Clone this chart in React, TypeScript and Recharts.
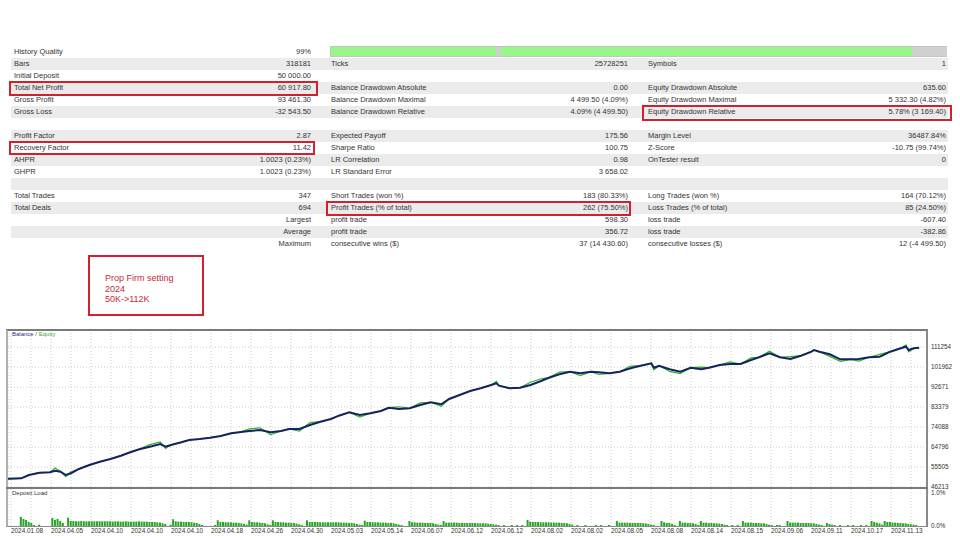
import React from 'react';
import { LineChart, Line, BarChart, Bar, XAxis, YAxis, CartesianGrid } from 'recharts';

// balance / equity curve, by trade number
const trades = [
  0, 5, 8, 12, 16, 18, 20, 22, 24, 27, 31, 35, 39, 43, 46, 50, 54, 58, 60, 62,
  66, 69, 73, 77, 81, 85, 88, 92, 96, 100, 104, 107, 111, 115, 119, 123, 126, 130, 134, 138,
  142, 145, 149, 153, 157, 161, 165, 168, 172, 176, 180, 184, 186, 187, 191, 195, 199, 203, 206, 210,
  214, 218, 222, 225, 229, 233, 237, 241, 245, 246, 248, 252, 256, 260, 264, 267, 271, 275, 279, 283,
  286, 290, 294, 298, 302, 306, 307, 309, 313, 317, 321, 324, 328, 332, 336, 340, 342, 343, 345, 347,
];
const balance = [
  50000, 50250, 51790, 52860, 53040, 53790, 53320, 51790, 52580, 54580, 56430, 57970, 59220, 60750, 62150, 63730, 64940, 66190, 64940, 65730,
  66980, 68050, 68510, 69120, 69910, 71160, 71630, 72230, 72690, 71630, 72230, 73160, 73160, 75020, 76550, 77800, 79340, 80920, 79660, 80450,
  81520, 83050, 82450, 82780, 84310, 85560, 84630, 87100, 88950, 90810, 92070, 93600, 94390, 93280, 92070, 92350, 93600, 95460, 96990, 98570,
  99780, 99040, 99780, 99500, 99040, 99780, 101360, 102570, 103680, 101640, 102570, 100890, 99780, 101640, 100890, 101640, 102890, 103360, 103360, 105220,
  106470, 108330, 106470, 105680, 107210, 109070, 109860, 109070, 107860, 105540, 105540, 105680, 106470, 106750, 109070, 110650, 111390, 109860, 110650, 110918,
];
const equity = [
  50000, 50250, 51790, 52860, 53040, 55000, 53320, 51000, 53300, 54580, 56430, 57970, 59220, 60750, 62150, 63730, 65900, 67200, 64100, 65730,
  66980, 68050, 68510, 69120, 69910, 71160, 71630, 73200, 73700, 70600, 72230, 73160, 72200, 76100, 76550, 77800, 79340, 80920, 78700, 80450,
  81520, 83050, 83500, 82780, 85300, 85560, 83700, 87100, 88950, 90810, 92070, 93600, 95300, 93280, 92070, 92350, 94900, 96500, 96990, 99600,
  99780, 98000, 99780, 98500, 99040, 99780, 102400, 102570, 103680, 100700, 102570, 99900, 98900, 101640, 101900, 101640, 102890, 104300, 103360, 106200,
  106470, 109300, 106470, 106800, 107210, 109070, 109860, 109070, 106900, 104600, 105540, 104700, 106470, 107800, 109070, 110650, 112200, 109000, 110650, 110918,
];

// deposit load per trade (index = trade number), in hundredths of a percent
const depositLoad = [
  0, 0, 0, 0, 0,
  27, 21, 18, 12, 9, 3, 0, 4,
  0, 0, 0, 0,
  24, 18, 21, 15, 9, 0,
  25, 15, 15, 14, 14, 15, 14, 14, 14, 14, 14, 14, 14, 14, 14, 14, 14, 13, 14, 14, 13, 13, 14, 13, 13, 13, 13, 14, 13, 13, 13, 12, 12, 12, 11, 10, 8, 6, 0,
  4,
  20, 14, 13, 13, 12, 12, 12, 11, 10, 9, 6, 3,
  0, 0, 0, 0, 3,
  17, 12, 12, 11, 11, 11, 10, 10, 9, 8, 6, 4,
  17, 12, 11, 11, 10, 9, 8, 5, 3,
  17, 12, 12, 11, 11, 10, 10, 9, 9, 7, 5, 3, 0,
  17, 12, 12, 12, 12, 11, 11, 11, 11, 11, 11, 11, 11, 10, 10, 10, 9, 9, 8, 6, 4, 3,
  16, 12, 12, 11, 11, 11, 10, 10, 10, 9, 9, 8, 6, 4, 3, 0, 0,
  15, 11, 11, 10, 10, 10, 9, 9, 9, 8, 6, 4, 3,
  15, 10, 10, 10, 10, 10, 9, 9, 9, 9, 9, 9, 9, 8, 8, 8, 8, 7, 6, 5, 4, 3, 0, 3, 0, 0, 3, 0, 3, 0, 3, 0,
  18, 13, 12, 12, 12, 11, 11, 11, 11, 10, 10, 10, 10, 9, 9, 8, 6, 4,
  0, 3, 0, 0, 3, 0, 0, 0, 3, 0, 3, 0, 0, 3, 0, 0,
  15, 10, 10, 10, 10, 9, 9, 9, 9, 9, 8, 8, 6, 4, 3, 0, 0,
  15, 11, 9, 9, 6, 3, 0,
  15, 10, 10, 9, 9, 8, 6, 3,
  15, 10, 10, 9, 9, 8, 8, 7, 6, 4, 3, 0,
  3, 0, 3, 0,
  15, 10, 10, 10, 9, 9, 9, 8, 8, 6, 4, 3,
  0, 3, 3, 0, 0,
  15, 10, 10, 10, 10, 9, 9, 9, 9, 8, 8, 6, 4, 3, 0,
  9, 6, 4, 3,
  0, 3, 0, 0, 3, 0, 3, 0, 0, 3, 0, 3, 0,
  15, 12, 10, 8, 4,
  15, 12, 12, 10, 10, 9, 9, 8, 8, 6, 5, 4, 3, 0,
];

const balanceTicks = [46213, 55505, 64796, 74088, 83379, 92671, 101962, 111254];
const loadTicks = [0, 1];
const dateLabels = [
  '2024.01.08', '2024.04.05', '2024.04.10', '2024.04.10', '2024.04.10', '2024.04.18', '2024.04.26', '2024.04.30',
  '2024.05.03', '2024.05.14', '2024.06.07', '2024.06.12', '2024.06.12', '2024.08.02', '2024.08.02', '2024.08.05',
  '2024.08.08', '2024.08.14', '2024.08.15', '2024.09.06', '2024.09.11', '2024.10.17', '2024.11.13',
];

// report table, one [label, value] pair per row for each column group
const leftCol = [
  ['History Quality', '99%'],
  ['Bars', '318181'],
  ['Initial Deposit', '50 000.00'],
  ['Total Net Profit', '60 917.80'],
  ['Gross Profit', '93 461.30'],
  ['Gross Loss', '-32 543.50'],
  ['', ''],
  ['Profit Factor', '2.87'],
  ['Recovery Factor', '11.42'],
  ['AHPR', '1.0023 (0.23%)'],
  ['GHPR', '1.0023 (0.23%)'],
  ['', ''],
  ['Total Trades', '347'],
  ['Total Deals', '694'],
  ['', 'Largest'],
  ['', 'Average'],
  ['', 'Maximum'],
];
const midCol = [
  ['', ''],
  ['Ticks', '25728251'],
  ['', ''],
  ['Balance Drawdown Absolute', '0.00'],
  ['Balance Drawdown Maximal', '4 499.50 (4.09%)'],
  ['Balance Drawdown Relative', '4.09% (4 499.50)'],
  ['', ''],
  ['Expected Payoff', '175.56'],
  ['Sharpe Ratio', '100.75'],
  ['LR Correlation', '0.98'],
  ['LR Standard Error', '3 658.02'],
  ['', ''],
  ['Short Trades (won %)', '183 (80.33%)'],
  ['Profit Trades (% of total)', '262 (75.50%)'],
  ['profit trade', '598.30'],
  ['profit trade', '356.72'],
  ['consecutive wins ($)', '37 (14 430.60)'],
];
const rightCol = [
  ['', ''],
  ['Symbols', '1'],
  ['', ''],
  ['Equity Drawdown Absolute', '635.60'],
  ['Equity Drawdown Maximal', '5 332.30 (4.82%)'],
  ['Equity Drawdown Relative', '5.78% (3 169.40)'],
  ['', ''],
  ['Margin Level', '36487.84%'],
  ['Z-Score', '-10.75 (99.74%)'],
  ['OnTester result', '0'],
  ['', ''],
  ['', ''],
  ['Long Trades (won %)', '164 (70.12%)'],
  ['Loss Trades (% of total)', '85 (24.50%)'],
  ['loss trade', '-607.40'],
  ['loss trade', '-382.86'],
  ['consecutive losses ($)', '12 (-4 499.50)'],
];

const FONT = '"Liberation Sans", Arial, sans-serif';
const TEXT = '#333';
const RED = '#d2202e';
const ROW_H = 12;

// x axis runs over trade numbers; plot is 919px wide, grid every 20px
const TRADE_MAX = 350;
const PLOT_W = 919;
const gridTicks = Array.from({ length: 46 }, (_, i) => ((3 + 20 * i) * TRADE_MAX) / PLOT_W);

const curveData = trades.map((t, i) => ({ trade: t, balance: balance[i], equity: equity[i] }));
const loadData = depositLoad.map((v, i) => ({ trade: i, load: v / 100 }));

const cell = (left: number, width: number, align: 'left' | 'right', text: string) => (
  <div style={{ position: 'absolute', left, width, top: 0, height: ROW_H, lineHeight: ROW_H + 'px', textAlign: align, whiteSpace: 'nowrap' }}>
    {text}
  </div>
);

function ReportTable() {
  return (
    <div style={{ position: 'absolute', left: 10, top: 46, width: 937, fontFamily: FONT, fontSize: 7.5, color: TEXT, borderLeft: '1px dotted #bbb' }}>
      {leftCol.map((row, i) => (
        <div key={i} style={{ position: 'absolute', left: 0, top: i * ROW_H, width: 937, height: ROW_H, background: i % 2 ? '#ebebeb' : '#fff' }}>
          {cell(3, 200, 'left', row[0])}
          {cell(0, 300, 'right', row[1])}
          {cell(320, 200, 'left', midCol[i][0])}
          {cell(320, 297, 'right', midCol[i][1])}
          {cell(637, 200, 'left', rightCol[i][0])}
          {cell(637, 298, 'right', rightCol[i][1])}
        </div>
      ))}
      {/* history quality bar */}
      <div style={{ position: 'absolute', left: 319, top: 0, width: 617, height: 11, background: '#98f68a', border: '1px solid #c4c4c4', boxSizing: 'border-box' }}>
        <div style={{ position: 'absolute', left: 165, top: 0, width: 5, height: 9, background: '#cfcfcf' }} />
        <div style={{ position: 'absolute', left: 581, top: 0, width: 35, height: 9, background: '#d0d0d0' }} />
      </div>
    </div>
  );
}

const boxes = [
  { left: 9, top: 81, width: 309, height: 15 },
  { left: 9, top: 141, width: 306, height: 14 },
  { left: 326, top: 201, width: 305, height: 15 },
  { left: 642, top: 105, width: 310, height: 16 },
];

function DateTick(props: any) {
  const { x, y, index } = props;
  if (index % 2 !== 0) return null;
  return (
    <text x={x} y={y} dy={7} fontSize={6.4} fontFamily={FONT} fill="#333" textAnchor="start">
      {dateLabels[index / 2]}
    </text>
  );
}

function NoTick() {
  return null;
}

const tickStyle = { fontSize: 6.3, fontFamily: FONT, fill: '#333' };

export default function App() {
  return (
    <div style={{ position: 'absolute', left: 0, top: 0, width: 960, height: 540, background: '#fff', overflow: 'hidden' }}>
      <ReportTable />
      {boxes.map((b, i) => (
        <div key={i} style={{ position: 'absolute', ...b, border: `2px solid ${RED}`, boxSizing: 'border-box' }} />
      ))}

      <div style={{ position: 'absolute', left: 88, top: 255, width: 116, height: 61, border: `2px solid ${RED}`, boxSizing: 'border-box', padding: '16px 0 0 15px', fontFamily: FONT, fontSize: 9, lineHeight: '10.5px', color: '#c8283a' }}>
        Prop Firm setting<br />2024<br />50K-&gt;112K
      </div>

      <div style={{ position: 'absolute', left: 0, top: 325 }}>
        <LineChart width={960} height={170} data={curveData} margin={{ top: 5, right: 0, bottom: 8, left: 8 }}>
          <CartesianGrid stroke="#cdcdcd" strokeDasharray="1 2" />
          <XAxis dataKey="trade" type="number" domain={[0, TRADE_MAX]} ticks={gridTicks} interval={0} height={0} tick={<NoTick />} axisLine={false} tickLine={false} />
          <YAxis orientation="right" width={33} domain={[46213, 119152]} ticks={balanceTicks} interval={0} axisLine={false} tickLine={false} tickSize={2} tickMargin={2} tick={tickStyle} />
          <Line type="linear" dataKey="equity" stroke="#2fb030" strokeWidth={1.2} dot={false} isAnimationActive={false} />
          <Line type="linear" dataKey="balance" stroke="#14245e" strokeWidth={2} dot={false} isAnimationActive={false} />
        </LineChart>
      </div>

      <div style={{ position: 'absolute', left: 0, top: 484 }}>
        <BarChart width={960} height={56} data={loadData} margin={{ top: 5, right: 0, bottom: 0, left: 8 }}>
          <CartesianGrid stroke="#cdcdcd" strokeDasharray="1 2" horizontal={false} />
          <XAxis dataKey="trade" type="number" domain={[0, TRADE_MAX]} ticks={gridTicks} interval={0} height={14} tick={<DateTick />} axisLine={false} tickLine={false} tickSize={0} tickMargin={0} />
          <YAxis orientation="right" width={33} domain={[0, 1.1]} ticks={loadTicks} interval={0} axisLine={false} tickLine={false} tickSize={2} tickMargin={2} tick={tickStyle} tickFormatter={(v: number) => v.toFixed(1) + '%'} />
          <Bar dataKey="load" fill="#27a527" barSize={2} isAnimationActive={false} />
        </BarChart>
      </div>

      {/* chart frame */}
      <div style={{ position: 'absolute', left: 6, top: 329, width: 922, height: 198, borderTop: '2px solid #7a7a7a', borderLeft: '2px solid #b0b0b0', borderRight: '2px solid #8a8a8a', borderBottom: '1px solid #8a8a8a', boxSizing: 'border-box' }} />
      <div style={{ position: 'absolute', left: 6, top: 487, width: 922, height: 2, background: '#7a7a7a' }} />

      <div style={{ position: 'absolute', left: 12, top: 331, fontFamily: FONT, fontSize: 6, color: '#555' }}>
        <span style={{ color: '#27307a' }}>Balance</span> / <span style={{ color: '#2fae2f' }}>Equity</span>
      </div>
      <div style={{ position: 'absolute', left: 12, top: 490, fontFamily: FONT, fontSize: 6, color: '#333' }}>Deposit Load</div>
    </div>
  );
}
